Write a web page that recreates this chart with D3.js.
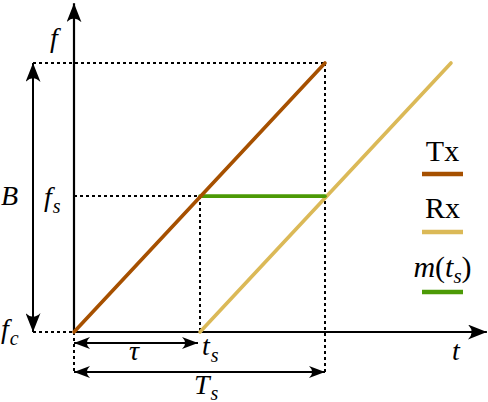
<!DOCTYPE html>
<html>
<head>
<meta charset="utf-8">
<script src="https://cdn.jsdelivr.net/npm/d3@7"></script>
</head>
<body style="margin:0">
<div id="chart"></div>
<script>
// fmcw chirp diagram - time on x, frequency on y (normalised: Ts = 1, B = 1)

// --- Data ---
const tau = 0.502;        // round trip delay (fraction of Ts)
const fsVal = 0.505;      // sampled frequency at t_s
const txT = [0, 1];
const txF = [0, 1];
const rxT = [0.502, 1.502];
const rxF = [0, 1];
const beatT = [0.502, 1];
const beatF = [fsVal, fsVal];
const legendLabels = ['Tx', 'Rx', 'm'];
const seriesColors = ['#a65000', '#dbb957', '#4c9a06'];

const width = 488, height = 402;
const serif = 'Liberation Serif';

const svg = d3.select('#chart').append('svg')
  .attr('width', width)
  .attr('height', height)
  .attr('font-family', serif)
  .style('display', 'block');

svg.append('style').text('text, tspan { font-family: "Liberation Serif", "Times New Roman", serif; }');

// scales
const x = d3.scaleLinear().domain([0, 1]).range([74, 325]);
const y = d3.scaleLinear().domain([0, 1]).range([332, 63]);
const px = v => Math.round(x(v));
const py = v => Math.round(y(v));

// arrow heads (stealth style)
const defs = svg.append('defs');
function marker(id, len, wid) {
  defs.append('marker')
    .attr('id', id)
    .attr('markerUnits', 'userSpaceOnUse')
    .attr('viewBox', `${-len} ${-wid / 2} ${len} ${wid}`)
    .attr('refX', 0).attr('refY', 0)
    .attr('markerWidth', len).attr('markerHeight', wid)
    .attr('orient', 'auto-start-reverse')
    .append('path')
    .attr('d', `M0,0 L${-len},${-wid / 2} Q${-len * 0.6},0 ${-len},${wid / 2} Z`)
    .attr('fill', '#000');
}
marker('big', 19, 15);
marker('small', 16, 12);

// dotted guides
const guides = [
  [[px(0) - 41, py(1)], [px(1), py(1)]],
  [[px(0) - 41, py(0)], [px(0), py(0)]],
  [[px(0), py(fsVal)], [px(tau), py(fsVal)]],
  [[px(tau), py(fsVal)], [px(tau), py(0)]],
  [[px(1), py(1)], [px(1), 373]],
  [[px(0), py(0)], [px(0), 373]]
];
svg.append('g').selectAll('line').data(guides).join('line')
  .attr('x1', d => d[0][0]).attr('y1', d => d[0][1])
  .attr('x2', d => d[1][0]).attr('y2', d => d[1][1])
  .attr('stroke', '#000').attr('stroke-width', 2)
  .attr('stroke-dasharray', '3,3')
  .attr('shape-rendering', 'crispEdges');

// axes
svg.append('line')
  .attr('x1', px(0)).attr('y1', py(0))
  .attr('x2', px(0)).attr('y2', y(1.222))
  .attr('stroke', '#000').attr('stroke-width', 2.2)
  .attr('marker-end', 'url(#big)');
svg.append('line')
  .attr('x1', px(0)).attr('y1', py(0))
  .attr('x2', x(1.645)).attr('y2', py(0))
  .attr('stroke', '#000').attr('stroke-width', 2.2)
  .attr('marker-end', 'url(#big)');

// double arrows: B, tau, Ts
const dbl = [
  {x1: px(0) - 41, y1: py(0), x2: px(0) - 41, y2: py(1), m: 'big'},
  {x1: px(0), y1: 343, x2: px(tau) - 2, y2: 343, m: 'small'},
  {x1: px(0), y1: 372, x2: px(1), y2: 372, m: 'small'}
];
svg.append('g').selectAll('line').data(dbl).join('line')
  .attr('x1', d => d.x1).attr('y1', d => d.y1)
  .attr('x2', d => d.x2).attr('y2', d => d.y2)
  .attr('stroke', '#000').attr('stroke-width', 2)
  .attr('marker-start', d => `url(#${d.m})`)
  .attr('marker-end', d => `url(#${d.m})`);

// chirps
const line = d3.line().x(d => x(d[0])).y(d => y(d[1]));
const series = [
  d3.zip(txT, txF),
  d3.zip(rxT, rxF),
  d3.zip(beatT, beatF)
];
// draw Rx first, then beat, then Tx on top
[1, 2, 0].forEach(i => {
  svg.append('path')
    .datum(series[i])
    .attr('d', line)
    .attr('fill', 'none')
    .attr('stroke', seriesColors[i])
    .attr('stroke-width', 3.6)
    .attr('stroke-linecap', 'round');
});

// math labels
function mathLabel(lx, ly, main, sub, subDy = 7) {
  const t = svg.append('text')
    .attr('x', lx).attr('y', ly)
    .attr('font-family', serif)
    .attr('font-size', 28);
  t.append('tspan').attr('font-style', 'italic').attr('font-family', serif).text(main);
  if (sub) {
    t.append('tspan').attr('font-style', 'italic').attr('font-family', serif)
      .attr('font-size', 20)
      .attr('dx', 1).attr('dy', subDy).text(sub);
  }
  return t;
}
mathLabel(50, 47, 'f');
mathLabel(1, 205, 'B');
mathLabel(44, 206, 'f', 's');
mathLabel(1, 338, 'f', 'c');
mathLabel(129, 360, 'τ');
mathLabel(202, 355, 't', 's');
mathLabel(194, 394, 'T', 's', 6);
mathLabel(452, 360, 't');

// legend
const legX = 422, legW = 41;
const legY = [174, 232, 292];
const legBase = [161, 218, 277];
legendLabels.forEach((lab, i) => {
  svg.append('line')
    .attr('x1', legX).attr('x2', legX + legW)
    .attr('y1', legY[i]).attr('y2', legY[i])
    .attr('stroke', seriesColors[i]).attr('stroke-width', 4.5);
  const t = svg.append('text')
    .attr('x', legX + legW / 2).attr('y', legBase[i])
    .attr('font-family', serif)
    .attr('font-size', 30).attr('text-anchor', 'middle');
  if (lab === 'm') {
    t.append('tspan').attr('font-style', 'italic').text('m');
    t.append('tspan').text('(');
    t.append('tspan').attr('font-style', 'italic').text('t');
    t.append('tspan').attr('font-style', 'italic').attr('font-size', 21)
      .attr('dy', 6).text('s');
    t.append('tspan').attr('dy', -6).text(')');
  } else {
    t.text(lab);
  }
});
</script>
</body>
</html>
